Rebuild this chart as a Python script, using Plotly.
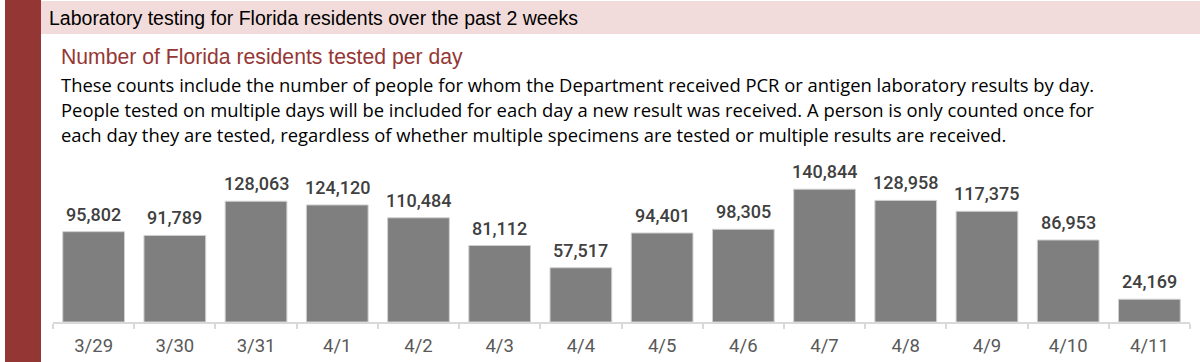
import plotly.graph_objects as go

dates = ["3/29", "3/30", "3/31", "4/1", "4/2", "4/3", "4/4",
         "4/5", "4/6", "4/7", "4/8", "4/9", "4/10", "4/11"]
tested = [95802, 91789, 128063, 124120, 110484, 81112, 57517,
          94401, 98305, 140844, 128958, 117375, 86953, 24169]

header = "Laboratory testing for Florida residents over the past 2 weeks"
subtitle = "Number of Florida residents tested per day"
paragraph = [
    "These counts include the number of people for whom the Department received PCR or antigen laboratory results by day.",
    "People tested on multiple days will be included for each day a new result was received. A person is only counted once for",
    "each day they are tested, regardless of whether multiple specimens are tested or multiple results are received.",
]

W, H = 1200, 362
def px(x):
    return x / W
def py(y):
    return 1 - y / H

plot_top, plot_bottom = 150, 322
units_per_px = 1 / 0.000943
yrange_max = (plot_bottom - plot_top) * units_per_px

fig = go.Figure()
fig.add_trace(go.Bar(
    x=dates, y=tested,
    marker=dict(color="#7F7F7F", line=dict(color="#D0D0D0", width=1)),
    hoverinfo="x+y",
))

annotations = []
for d, v in zip(dates, tested):
    annotations.append(dict(
        x=d, y=v, xref="x", yref="y", text=f"{v:,}", showarrow=False,
        yanchor="bottom", yshift=5,
        font=dict(family="Roboto, Arial, sans-serif", size=18, color="#404040", weight=500),
    ))

annotations.append(dict(
    x=px(47), y=py(18), xref="paper", yref="paper", text=header, showarrow=False,
    xanchor="left", yanchor="middle",
    font=dict(family="Liberation Sans, Arial, sans-serif", size=19.5, color="#000000"),
))
annotations.append(dict(
    x=px(59), y=py(57), xref="paper", yref="paper", text=subtitle, showarrow=False,
    xanchor="left", yanchor="middle",
    font=dict(family="Liberation Sans, Arial, sans-serif", size=21.2, color="#953735"),
))
for i, line in enumerate(paragraph):
    annotations.append(dict(
        x=px(59), y=py(84.5 + i * 24.8), xref="paper", yref="paper", text=line, showarrow=False,
        xanchor="left", yanchor="middle",
        font=dict(family="Open Sans, Arial, sans-serif", size=18.4, color="#000000"),
    ))

shapes = [
    dict(type="rect", xref="paper", yref="paper", x0=px(41), x1=1, y0=py(34), y1=py(1),
         fillcolor="#F2DCDB", line=dict(width=0), layer="below"),
    dict(type="rect", xref="paper", yref="paper", x0=px(5), x1=px(41), y0=0, y1=1,
         fillcolor="#943634", line=dict(width=0), layer="below"),
]

fig.update_layout(
    width=W, height=H,
    margin=dict(l=0, r=0, t=0, b=0),
    paper_bgcolor="#FFFFFF", plot_bgcolor="#FFFFFF",
    showlegend=False,
    bargap=0.24,
    shapes=shapes,
    annotations=annotations,
    xaxis=dict(
        domain=[px(53), px(1190)],
        showline=True, linecolor="#D9D9D9", linewidth=1.5,
        ticks="outside", tickson="boundaries", ticklen=5, tickcolor="#D9D9D9", tickwidth=1.5,
        ticklabelstandoff=6,
        tickfont=dict(family="Roboto, Arial, sans-serif", size=18.5, color="#595959"),
        showgrid=False, zeroline=False,
    ),
    yaxis=dict(
        domain=[py(plot_bottom), py(plot_top)],
        range=[0, yrange_max],
        visible=False, showgrid=False, zeroline=False,
    ),
)

fig.write_html("out.html", config={"displayModeBar": False},
               post_script="document.body.style.margin='0';")
